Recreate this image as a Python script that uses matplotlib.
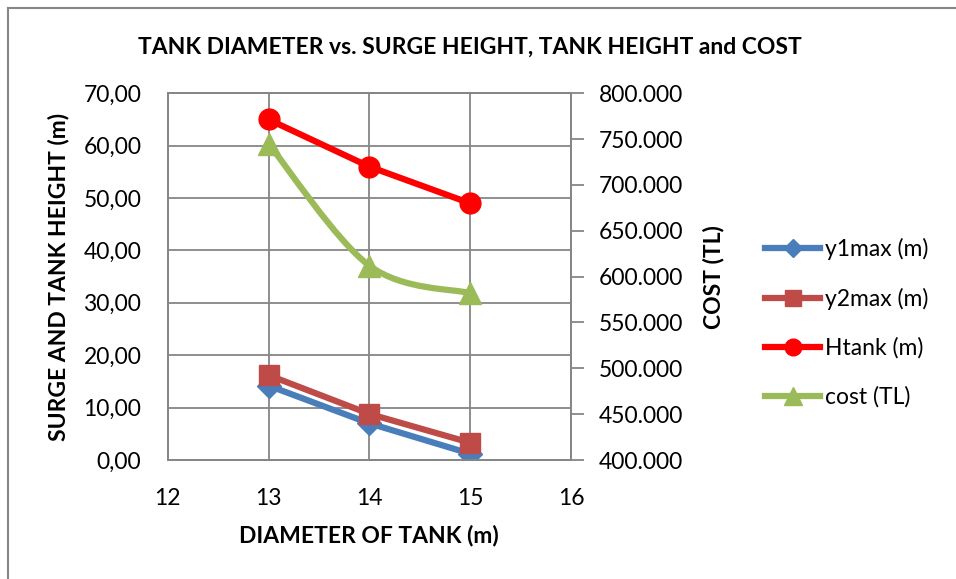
"""
Tank diameter vs. surge height, tank height and cost (twin y-axes).
"""

import matplotlib
matplotlib.use("Agg")
import matplotlib.pyplot as plt
from matplotlib.lines import Line2D
from matplotlib.path import Path
from matplotlib.patches import PathPatch
from matplotlib.ticker import FuncFormatter, MultipleLocator

plt.rcParams["font.family"] = ["Lato", "DejaVu Sans"]

# data
diameter = [13, 14, 15]
y1max = [14.2, 7.0, 1.2]
y2max = [16.2, 8.8, 3.3]
htank = [65.0, 56.0, 49.0]
cost = [745000, 612000, 582000]

GRID = "#868686"
FS = 16.5


def smooth_path(xs, ys):
    """Cubic Bezier path through the points (Catmull-Rom style smoothing)."""
    verts = [(xs[0], ys[0])]
    codes = [Path.MOVETO]
    n = len(xs)
    for i in range(n - 1):
        x0, y0 = (xs[i - 1], ys[i - 1]) if i > 0 else (xs[i], ys[i])
        x1, y1 = xs[i], ys[i]
        x2, y2 = xs[i + 1], ys[i + 1]
        x3, y3 = (xs[i + 2], ys[i + 2]) if i + 2 < n else (x2, y2)
        c1 = (x1 + (x2 - x0) / 6, y1 + (y2 - y0) / 6)
        c2 = (x2 - (x3 - x1) / 6, y2 - (y3 - y1) / 6)
        verts += [c1, c2, (x2, y2)]
        codes += [Path.CURVE4] * 3
    return Path(verts, codes)


fig = plt.figure(figsize=(9.56, 5.79), dpi=100)
ax = fig.add_axes([0.1754, 0.2055, 0.4219, 0.6334])
ax2 = ax.twinx()

# outer chart frame (top and left edges only visible)
fig.add_artist(Line2D([8 / 956, 8 / 956], [0, 1 - 8 / 579], color=GRID, lw=1.5,
                      transform=fig.transFigure))
fig.add_artist(Line2D([8 / 956, 1], [1 - 8 / 579, 1 - 8 / 579], color=GRID, lw=1.5,
                      transform=fig.transFigure))

lw = 4.5
h1, = ax.plot(diameter, y1max, color="#4A7EBB", lw=lw, marker="D", ms=12,
              label="y1max (m)", zorder=3)
h2, = ax.plot(diameter, y2max, color="#BE4B48", lw=lw, marker="s", ms=14,
              label="y2max (m)", zorder=3)
h3, = ax.plot(diameter, htank, color="#FF0000", lw=lw, marker="o", ms=15,
              label="Htank (m)", zorder=3)

ax2.add_patch(PathPatch(smooth_path(diameter, cost), facecolor="none",
                        edgecolor="#9BBB59", lw=lw, zorder=3))
h4, = ax2.plot(diameter, cost, color="#9BBB59", lw=0, marker="^", ms=16, zorder=4)
h4_leg = Line2D([], [], color="#9BBB59", lw=lw, marker="^", ms=16)

ax.set_xlim(12, 16)
ax.set_ylim(0, 70)
ax2.set_ylim(400000, 800000)
ax.xaxis.set_major_locator(MultipleLocator(1))
ax.yaxis.set_major_locator(MultipleLocator(10))
ax2.yaxis.set_major_locator(MultipleLocator(50000))

ax.yaxis.set_major_formatter(FuncFormatter(lambda v, p: f"{v:.2f}".replace(".", ",")))
ax2.yaxis.set_major_formatter(FuncFormatter(lambda v, p: f"{int(v):,}".replace(",", ".")))

ax.grid(True, color=GRID, lw=1.3)
ax.set_axisbelow(True)

for a in (ax, ax2):
    for s in a.spines.values():
        s.set_color(GRID)
        s.set_linewidth(1.3)
ax.tick_params(axis="both", length=0, labelsize=FS)
ax.tick_params(axis="x", pad=20)
ax.tick_params(axis="y", pad=19)
ax2.tick_params(axis="y", length=9, width=1.3, color=GRID, direction="out",
                labelsize=FS, pad=11)

ax.set_xlabel("DIAMETER OF TANK (m)", fontsize=FS, fontweight="bold", labelpad=11.5)
ax.set_ylabel("SURGE AND TANK HEIGHT (m)", fontsize=FS, fontweight="bold")
ax.yaxis.set_label_coords(-0.243, 0.5)
ax2.set_ylabel("COST (TL)", fontsize=FS, fontweight="bold", labelpad=14)

fig.text(0.491, 1 - 47 / 579, "TANK DIAMETER vs. SURGE HEIGHT, TANK HEIGHT and COST",
         fontsize=FS, fontweight="bold", ha="center", va="center")

fig.legend([h1, h2, h3, h4_leg], ["y1max (m)", "y2max (m)", "Htank (m)", "cost (TL)"],
           loc="center left", bbox_to_anchor=(765 / 956, 1 - 323 / 579),
           frameon=False, fontsize=FS, handlelength=2.4, handletextpad=0.2,
           labelspacing=1.2, markerscale=0.8, borderpad=0, borderaxespad=0)

fig.savefig("out.png", dpi=100)
